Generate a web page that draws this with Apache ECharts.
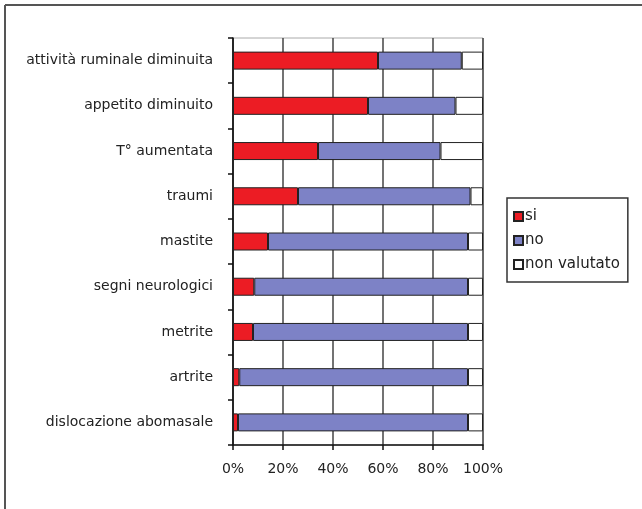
<!DOCTYPE html>
<html>
<head>
<meta charset="utf-8">
<script src="https://cdn.jsdelivr.net/npm/echarts@6/dist/echarts.min.js"></script>
<style>
html,body{margin:0;padding:0;background:#fff;}
#c{width:642px;height:509px;}
</style>
</head>
<body>
<div id="c"></div>
<script>
const categories = ['attività ruminale diminuita','appetito diminuito','T° aumentata','traumi','mastite','segni neurologici','metrite','artrite','dislocazione abomasale'];
const si = [58, 54, 34, 26, 14, 8.5, 8, 2.5, 2];
const no = [33.5, 35, 49, 69, 80, 85.5, 86, 91.5, 92];
const nonValutato = [8.5, 11, 17, 5, 6, 6, 6, 6, 6];
const xTicks = [0, 20, 40, 60, 80, 100];

const font = 'DejaVu Sans';
const chart = echarts.init(document.getElementById('c'), null, {renderer:'canvas'});
const barStyle = (color) => ({color: color, borderColor: '#222', borderWidth: 1});
chart.setOption({
  backgroundColor: '#fff',
  animation: false,
  graphic: [
    {type:'line', shape:{x1:5, y1:5, x2:642, y2:5}, style:{stroke:'#555', lineWidth:2}},
    {type:'line', shape:{x1:5, y1:5, x2:5, y2:509}, style:{stroke:'#555', lineWidth:2}}
  ],
  grid: {left: 233, right: 159, top: 38, bottom: 64, show: true, borderColor: '#aaa', borderWidth: 1},
  legend: {
    orient: 'vertical', left: 507, top: 198,
    data: ['si','no','non valutato'],
    icon: 'rect', itemWidth: 9, itemHeight: 9, itemGap: 9,
    borderColor: '#333', borderWidth: 1.5, borderRadius: 0,
    padding: [11, 8, 10, 6],
    textStyle: {fontFamily: font, fontSize: 15, color: '#222', padding: [0,0,0,-3]}
  },
  xAxis: {
    type: 'value', min: 0, max: 100, interval: 20,
    axisLine: {show: true, lineStyle: {color: '#111', width: 1.5}},
    axisTick: {show: true, length: 5, lineStyle: {color: '#111', width: 1.5}},
    splitLine: {show: true, lineStyle: {color: '#444', width: 1.5}},
    axisLabel: {fontFamily: font, fontSize: 14, color: '#222', margin: 17,
      formatter: v => xTicks.includes(v) ? v + '%' : ''}
  },
  yAxis: {
    type: 'category', data: categories, inverse: true,
    axisLine: {show: true, lineStyle: {color: '#111', width: 1.5}},
    axisTick: {show: true, length: 5, lineStyle: {color: '#111', width: 1.5}},
    axisLabel: {fontFamily: font, fontSize: 14, color: '#222', margin: 20}
  },
  series: [
    {name: 'si', type: 'bar', stack: 't', data: si, barWidth: 18, itemStyle: barStyle('#ec1c24')},
    {name: 'no', type: 'bar', stack: 't', data: no, barWidth: 18, itemStyle: barStyle('#7d82c6')},
    {name: 'non valutato', type: 'bar', stack: 't', data: nonValutato, barWidth: 18, itemStyle: barStyle('#ffffff')}
  ]
});
</script>
</body>
</html>
